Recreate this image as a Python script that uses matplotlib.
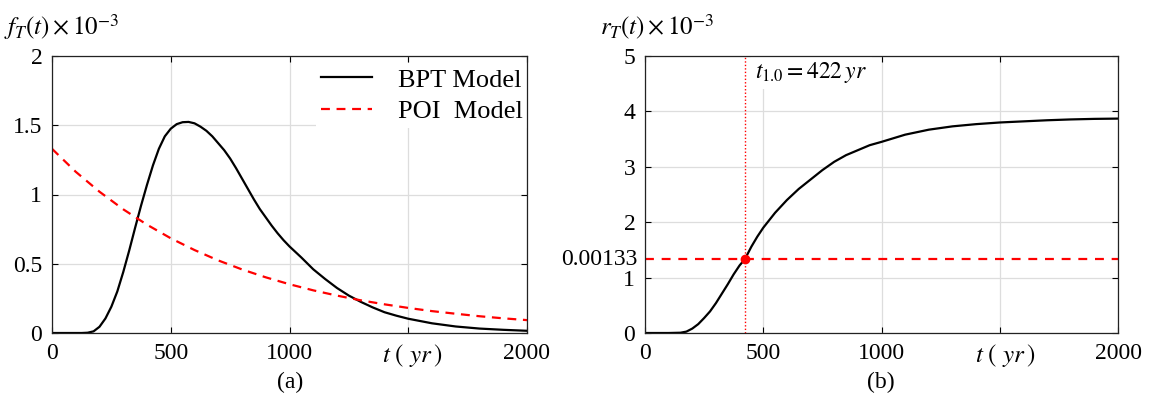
import matplotlib
matplotlib.use("Agg")
import matplotlib.pyplot as plt

plt.rcParams['font.family'] = ['Liberation Serif', 'DejaVu Serif']
plt.rcParams['mathtext.fontset'] = 'stix'

# ---- data ----
t_pdf = [0, 100, 125, 150, 175, 200, 225, 250, 275, 300, 325, 350, 375, 400,
         425, 450, 475, 500, 525, 550, 575, 600, 625, 650, 675, 700, 725, 750,
         775, 800, 825, 850, 875, 900, 925, 950, 975, 1000, 1050, 1100, 1150,
         1200, 1250, 1300, 1350, 1400, 1450, 1500, 1600, 1700, 1800, 1900,
         2000]
bpt_pdf = [0, 0, 0, 0.002, 0.012, 0.045, 0.105, 0.19, 0.30, 0.44, 0.595, 0.76,
           0.92, 1.07, 1.21, 1.33, 1.42, 1.475, 1.508, 1.522, 1.524, 1.514,
           1.49, 1.46, 1.42, 1.37, 1.32, 1.26, 1.19, 1.115, 1.04, 0.965,
           0.895, 0.835, 0.775, 0.72, 0.67, 0.625, 0.545, 0.46, 0.39, 0.325,
           0.27, 0.225, 0.185, 0.15, 0.125, 0.103, 0.07, 0.047, 0.032, 0.023,
           0.016]

t_poi = [0, 100, 200, 300, 400, 500, 600, 700, 800, 900, 1000, 1100, 1200,
         1300, 1400, 1500, 1600, 1700, 1800, 1900, 2000]
poi_pdf = [1.33, 1.164, 1.020, 0.893, 0.782, 0.684, 0.599, 0.524, 0.459,
           0.402, 0.352, 0.308, 0.270, 0.236, 0.207, 0.181, 0.158, 0.139,
           0.121, 0.106, 0.093]

t_haz = [0, 100, 150, 175, 200, 225, 250, 275, 300, 325, 350, 375, 400, 422,
         450, 475, 500, 550, 600, 650, 700, 750, 800, 850, 900, 950, 1000,
         1100, 1200, 1300, 1400, 1500, 1600, 1700, 1800, 1900, 2000]
bpt_haz = [0, 0, 0.005, 0.025, 0.08, 0.16, 0.27, 0.39, 0.54, 0.71, 0.88, 1.06,
           1.22, 1.33, 1.56, 1.74, 1.90, 2.17, 2.40, 2.60, 2.77, 2.94, 3.09,
           3.21, 3.30, 3.39, 3.45, 3.58, 3.67, 3.73, 3.77, 3.80, 3.82, 3.84,
           3.855, 3.865, 3.87]

poi_rate = 1.33
t_cross = 422

xticks = [0, 500, 1000, 1500, 2000]
xticklabels = ['0', '500', '1000', '', '2000']
yticks_a = [0, 0.5, 1, 1.5, 2]
yticklabels_a = ['0', '0.5', '1', '1.5', '2']
yticks_b = [0, 1, 2, 3, 4, 5]

W, H = 1150, 401
fig = plt.figure(figsize=(W / 100, H / 100), dpi=100)
axa = fig.add_axes([52 / W, (H - 333) / H, 475 / W, 277 / H])
axb = fig.add_axes([645 / W, (H - 333) / H, 473 / W, 277 / H])

tick_fs = 17
grid_kw = dict(color='#dddddd', linewidth=0.9)


def style(ax):
    ax.set_xlim(0, 2000)
    ax.grid(True, **grid_kw)
    ax.set_axisbelow(True)
    ax.tick_params(direction='in', length=4, width=0.8, top=True, right=True,
                   labelsize=tick_fs, pad=7, colors='black')
    ax.set_xticks(xticks)
    ax.set_xticklabels(xticklabels)
    for s in ax.spines.values():
        s.set_linewidth(0.9)
        s.set_color('#222222')
        s.set_zorder(6)


# ---- panel (a) ----
style(axa)
axa.set_ylim(0, 2)
axa.set_yticks(yticks_a)
axa.set_yticklabels(yticklabels_a)
axa.plot(t_pdf, bpt_pdf, color='black', lw=1.6, label='BPT Model')
axa.plot(t_poi, poi_pdf, color='red', lw=1.6, dashes=(4, 3), label='POI  Model')
leg = axa.legend(loc='upper right', bbox_to_anchor=(1.008, 0.985),
                 frameon=True, fontsize=19,
                 handlelength=1.9, handletextpad=1.0, labelspacing=0.3,
                 borderaxespad=0.1, borderpad=0.2, fancybox=False)
leg.get_frame().set_edgecolor('none')
leg.get_frame().set_facecolor('white')
leg.get_frame().set_alpha(1)
axa.text(0.758, -0.08, r'$t\ \left(\ yr\,\right)$', transform=axa.transAxes,
         ha='center', va='center', fontsize=18)
fig.text(290 / W, 1 - 382 / H, '(a)', ha='center', va='center', fontsize=17)
fig.text(4 / W, 1 - 27 / H, r'$f_T\left(t\right)\times10^{-3}$',
         ha='left', va='center', fontsize=18)

# ---- panel (b) ----
style(axb)
axb.set_ylim(0, 5)
axb.set_yticks(yticks_b)
axb.plot(t_haz, bpt_haz, color='black', lw=1.6, zorder=3)
axb.axhline(poi_rate, color='red', lw=1.6, dashes=(4, 3.5), zorder=3)
axb.axvline(t_cross, color='red', lw=1.0, ls=(0, (1, 1.5)), zorder=3)
axb.plot([t_cross], [poi_rate], 'o', color='red', ms=6, zorder=4)
axb.text(-0.015, poi_rate / 5, '0.00133', transform=axb.transAxes,
         ha='right', va='center', fontsize=tick_fs)
axb.text(t_cross + 45, 4.7, r'$t_{1.0}=422\,yr$', ha='left', va='center',
         fontsize=17, zorder=2,
         bbox=dict(facecolor='white', edgecolor='none', pad=3))
axb.text(0.761, -0.08, r'$t\ \left(\ yr\,\right)$', transform=axb.transAxes,
         ha='center', va='center', fontsize=18)
fig.text(881 / W, 1 - 382 / H, '(b)', ha='center', va='center', fontsize=17)
fig.text(600 / W, 1 - 27 / H, r'$r_T\left(t\right)\times10^{-3}$',
         ha='left', va='center', fontsize=18)

fig.savefig('out.png', dpi=100)
